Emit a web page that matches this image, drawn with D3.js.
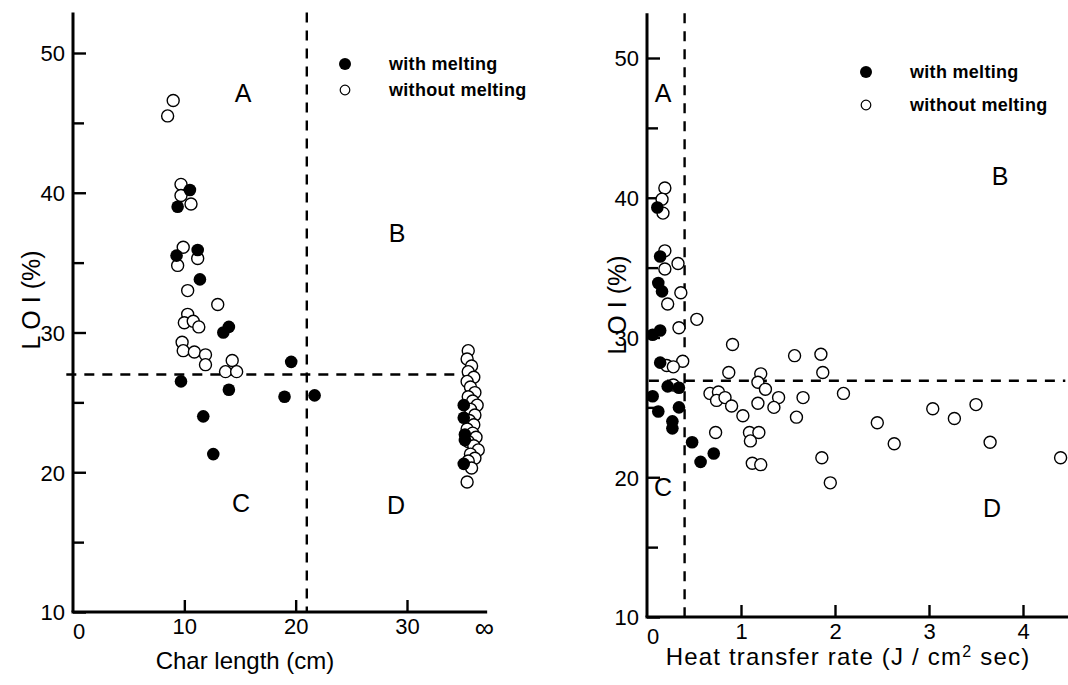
<!DOCTYPE html>
<html>
<head>
<meta charset="utf-8">
<script src="https://cdn.jsdelivr.net/npm/d3@7"></script>
<style>
  body { margin: 0; background: #fff; }
  svg text { font-family: "Liberation Sans", Arial, sans-serif; fill: #000; }
</style>
</head>
<body>
<svg id="chart" width="1068" height="685"></svg>
<script>
// ---- data: left panel, char length (cm) vs LOI (%) ----
var charWith = [
  [10.5, 40.2], [9.4, 39.0], [9.3, 35.5], [11.2, 35.9], [11.4, 33.8],
  [13.5, 30.0], [14.0, 30.4], [9.7, 26.5], [14.0, 25.9], [11.7, 24.0],
  [12.6, 21.3], [19.6, 27.9], [19.0, 25.4], [21.7, 25.5],
  [35.1, 24.8], [35.1, 23.9], [35.2, 22.7], [35.2, 22.3], [35.1, 20.6]
];
var charWithout = [
  [9.0, 46.6], [8.5, 45.5], [9.7, 40.6], [9.7, 39.8], [10.6, 39.2],
  [9.9, 36.1], [9.4, 34.8], [11.2, 35.3], [10.3, 33.0], [13.0, 32.0],
  [10.3, 31.3], [10.0, 30.7], [10.8, 30.8], [11.3, 30.4], [9.8, 29.3],
  [9.9, 28.7], [10.9, 28.6], [11.9, 28.4], [11.9, 27.7], [14.3, 28.0],
  [13.7, 27.2], [14.7, 27.2],
  // the "infinite" char length column
  [35.5, 28.7], [35.4, 28.1], [35.8, 27.6], [35.5, 27.2], [36.0, 26.8],
  [35.4, 26.5], [35.7, 26.1], [36.1, 25.7], [35.5, 25.4], [35.9, 25.1],
  [36.3, 24.8], [35.7, 24.5], [36.1, 24.1], [35.6, 23.7], [36.0, 23.4],
  [35.4, 23.1], [35.9, 22.8], [36.2, 22.5], [35.5, 22.2], [36.0, 21.9],
  [36.4, 21.6], [35.7, 21.3], [36.1, 21.0], [35.5, 20.8], [35.8, 20.3],
  [35.4, 19.3]
];
var charTicks = [10, 20, 30];

// ---- data: right panel, heat transfer rate vs LOI (%) ----
var heatWith = [
  [0.11, 39.3], [0.14, 35.8], [0.12, 33.9], [0.16, 33.3], [0.14, 30.5],
  [0.06, 30.2], [0.14, 28.2], [0.22, 26.5], [0.34, 26.4], [0.06, 25.8],
  [0.12, 24.7], [0.34, 25.0], [0.27, 24.0], [0.27, 23.5], [0.48, 22.5],
  [0.57, 21.1], [0.71, 21.7]
];
var heatWithout = [
  [0.19, 40.7], [0.16, 39.9], [0.17, 38.9], [0.19, 36.2], [0.19, 34.9],
  [0.33, 35.3], [0.36, 33.2], [0.22, 32.4], [0.53, 31.3], [0.34, 30.7],
  [0.91, 29.5], [0.38, 28.3], [0.21, 28.0], [0.28, 27.9], [0.87, 27.5],
  [0.28, 26.6], [0.67, 26.0], [0.76, 26.1], [0.74, 25.5], [0.83, 25.7],
  [0.90, 25.1], [1.02, 24.4], [0.73, 23.2], [1.09, 23.2], [1.19, 23.2],
  [1.10, 22.6], [1.12, 21.0], [1.21, 20.9], [1.57, 28.7], [1.85, 28.8],
  [1.21, 27.4], [1.18, 26.8], [1.26, 26.3], [1.87, 27.5], [2.09, 26.0],
  [1.40, 25.7], [1.66, 25.7], [1.18, 25.3], [1.35, 25.0], [1.59, 24.3],
  [2.45, 23.9], [3.04, 24.9], [3.27, 24.2], [3.50, 25.2], [2.63, 22.4],
  [3.65, 22.5], [1.86, 21.4], [1.95, 19.6], [4.40, 21.4]
];
var heatTicks = [1, 2, 3, 4];

var loiTicks = [10, 20, 30, 40, 50];
var loiMinor = [15, 25, 35, 45];
var seriesNames = ["with melting", "without melting"];

var svg = d3.select("#chart");

function panel(opt) {
  var g = svg.append("g");
  var x = opt.x, y = opt.y;

  // dashed region boundaries
  g.append("line")
    .attr("x1", x(opt.hLine[0])).attr("x2", x(opt.hLine[1]))
    .attr("y1", y(opt.hLine[2])).attr("y2", y(opt.hLine[2]))
    .attr("stroke", "#000").attr("stroke-width", 2.4)
    .attr("stroke-dasharray", "10,8");
  g.append("line")
    .attr("x1", x(opt.vLine[0])).attr("x2", x(opt.vLine[0]))
    .attr("y1", y(opt.vLine[1])).attr("y2", y(10))
    .attr("stroke", "#000").attr("stroke-width", 2.4)
    .attr("stroke-dasharray", "10,8");

  // y axis, ticks pointing inwards
  var yAxis = g.append("g").attr("transform", "translate(" + x(0) + ",0)")
    .call(d3.axisLeft(y).tickValues(loiTicks).tickSize(-13).tickSizeOuter(0).tickPadding(8));
  g.append("g").attr("transform", "translate(" + x(0) + ",0)")
    .call(d3.axisLeft(y).tickValues(loiMinor).tickSize(-11).tickSizeOuter(0).tickFormat(""))
    .select(".domain").remove();
  yAxis.select(".domain").remove();
  yAxis.selectAll("text").style("font-size", "22px").attr("dy", "0.36em");

  var xAxis = g.append("g").attr("transform", "translate(0," + y(10) + ")")
    .call(d3.axisBottom(x).tickValues(opt.xTicks).tickFormat(d3.format("d"))
      .tickSize(-12).tickSizeOuter(0).tickPadding(6));
  xAxis.select(".domain").remove();
  xAxis.selectAll("text").style("font-size", "22px");
  g.selectAll(".tick line").attr("stroke-width", 2.4);

  // "0" label under the origin
  g.append("text").attr("x", x(0) + 6).attr("y", y(10) + 27)
    .attr("text-anchor", "middle").style("font-size", "22px").text("0");

  // axis lines
  g.append("line").attr("x1", x(0)).attr("x2", x(0))
    .attr("y1", y(opt.yTop)).attr("y2", y(10))
    .attr("stroke", "#000").attr("stroke-width", 3);
  g.append("line").attr("x1", x(0) - 1.5).attr("x2", x(opt.xEnd))
    .attr("y1", y(10)).attr("y2", y(10))
    .attr("stroke", "#000").attr("stroke-width", 3);

  // points
  g.selectAll("circle.open").data(opt.without).enter().append("circle")
    .attr("class", "open")
    .attr("cx", function (d) { return x(d[0]); })
    .attr("cy", function (d) { return y(d[1]); })
    .attr("r", 6).attr("fill", "#fff").attr("stroke", "#000").attr("stroke-width", 1.4);
  g.selectAll("circle.full").data(opt.with).enter().append("circle")
    .attr("class", "full")
    .attr("cx", function (d) { return x(d[0]); })
    .attr("cy", function (d) { return y(d[1]); })
    .attr("r", 6.3).attr("fill", "#000");

  // region letters
  opt.regions.forEach(function (r) {
    g.append("text").attr("x", r[1]).attr("y", r[2])
      .attr("text-anchor", "middle").style("font-size", "25px").text(r[0]);
  });

  // legend
  var lg = g.append("g");
  lg.append("circle").attr("cx", opt.legend[0]).attr("cy", opt.legend[1])
    .attr("r", 6).attr("fill", "#000");
  lg.append("circle").attr("cx", opt.legend[0]).attr("cy", opt.legend[1] + opt.legend[2])
    .attr("r", 4.8).attr("fill", "#fff").attr("stroke", "#000").attr("stroke-width", 1.2);
  seriesNames.forEach(function (s, i) {
    lg.append("text").attr("x", opt.legend[0] + 44).attr("y", opt.legend[1] + i * opt.legend[2])
      .attr("dy", "0.35em").style("font-size", "18px").style("font-weight", "bold")
      .style("letter-spacing", "0.3px").text(s);
  });

  // y label
  g.append("text")
    .attr("transform", "translate(" + opt.yLabel[0] + "," + opt.yLabel[1] + ") rotate(-90)")
    .attr("text-anchor", "middle").attr("dy", "0.35em")
    .style("font-size", "25px").text("L O I (%)");
  return g;
}

// left panel
var xL = d3.scaleLinear().domain([0, 30]).range([73, 407]);
var yL = d3.scaleLinear().domain([10, 50]).range([612, 53]);
var left = panel({
  x: xL, y: yL, xTicks: charTicks, yTop: 52.9, xEnd: 37.2,
  with: charWith, without: charWithout,
  hLine: [-0.6, 35.4, 27.0], vLine: [21.0, 52.9],
  regions: [["A", 243, 102], ["B", 397, 242], ["C", 241, 512], ["D", 396, 514]],
  legend: [345, 64, 26], yLabel: [31, 300]
});
left.append("text").attr("x", xL(36.95)).attr("y", yL(10) + 25)
  .attr("text-anchor", "middle").style("font-size", "27px").text("∞");
left.append("text").attr("x", 245).attr("y", 669)
  .attr("text-anchor", "middle").style("font-size", "24px").text("Char length (cm)");

// right panel
var xR = d3.scaleLinear().domain([0, 4]).range([647, 1023]);
var yR = d3.scaleLinear().domain([10, 50]).range([617, 58]);
var right = panel({
  x: xR, y: yR, xTicks: heatTicks, yTop: 53.2, xEnd: 4.5,
  with: heatWith, without: heatWithout,
  hLine: [0.02, 4.45, 26.9], vLine: [0.40, 53.2],
  regions: [["A", 663, 102], ["B", 1000, 185], ["C", 663, 496], ["D", 992, 517]],
  legend: [866, 72, 33], yLabel: [617, 305]
});
var xt = right.append("text").attr("x", 848).attr("y", 665)
  .attr("text-anchor", "middle").style("font-size", "24px").style("letter-spacing", "1.2px");
xt.append("tspan").text("Heat transfer rate (J / cm");
xt.append("tspan").attr("dy", -8).style("font-size", "16px").text("2");
xt.append("tspan").attr("dy", 8).text(" sec)");
</script>
</body>
</html>
